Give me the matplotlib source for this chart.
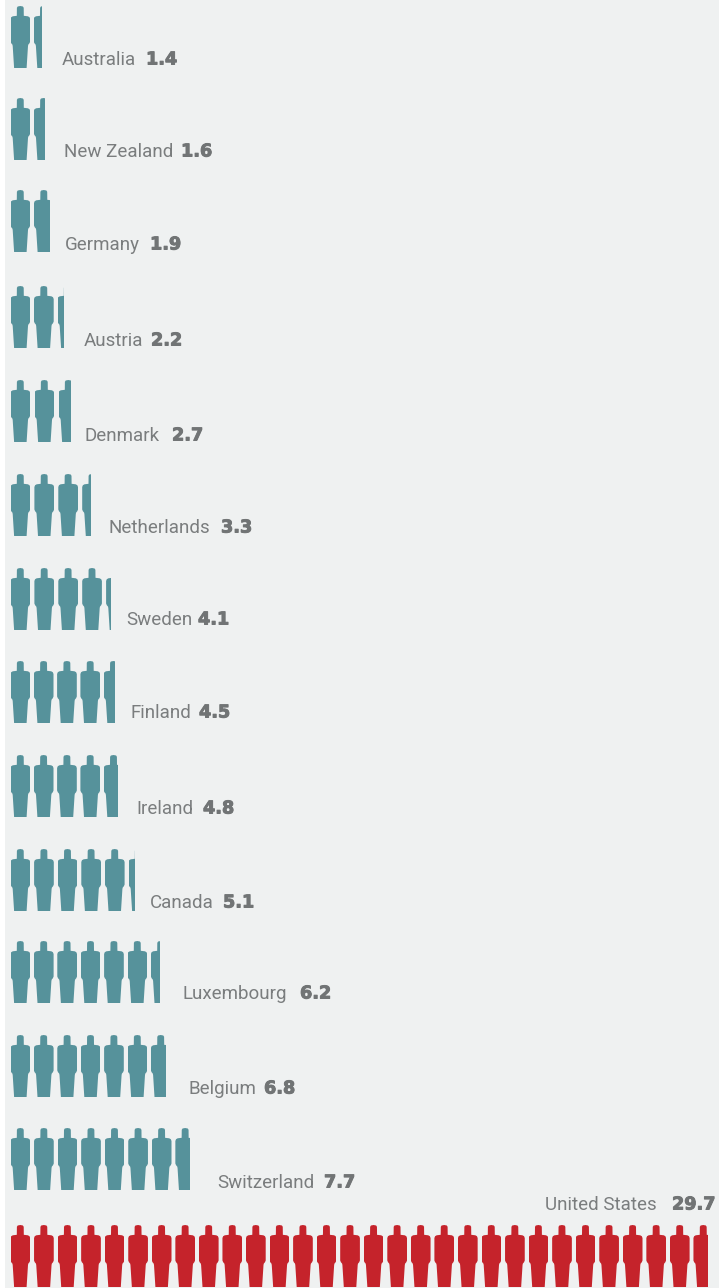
import matplotlib
matplotlib.use("Agg")
import matplotlib.pyplot as plt
import matplotlib.patheffects as pe
from matplotlib.patches import Polygon, Rectangle

# Data
countries = ["Australia", "New Zealand", "Germany", "Austria", "Denmark", "Netherlands", "Sweden",
             "Finland", "Ireland", "Canada", "Luxembourg", "Belgium", "Switzerland", "United States"]
values = [1.4, 1.6, 1.9, 2.2, 2.7, 3.3, 4.1, 4.5, 4.8, 5.1, 6.2, 6.8, 7.7, 29.7]

# Layout (pixels)
row_top = [6, 98, 190, 286, 380, 474, 568, 661, 755, 849, 941, 1035, 1128, 1225]
pitch = [23.2, 23.3, 23.5, 23.5, 24.0, 23.9, 23.9, 23.3, 23.3, 23.6, 23.4, 23.4, 23.55, 23.55]
last_width = [8.5, 11, 15.5, 6.5, 12, 9, 5, 11, 14, 6, 9, 15.5, 15, 15]
name_x = [62, 64, 65, 84, 85, 109, 126, 131, 136, 150, 183, 188, 217, 545]
value_x = [146, 181, 150, 151, 172, 221, 198, 199, 203, 223, 300, 264, 324, 672]
text_y = [59.5, 151.5, 244.5, 340.5, 435.5, 527.5, 619.5, 712.5, 808.5, 902.5, 993.5, 1088.5, 1182.5, 1204.5]
PERSON_W, PERSON_X0 = 19.7, 10.5
TEAL, RED, BG, GREY, DARK = "#56929b", "#c5232b", "#eff1f1", "#7a7d7e", "#717475"

# Person silhouette in a 19.7 x 62 box
SHAPE = [(6.4, 1.8), (7.2, 0.5), (9.8, 0), (12.4, 0.5), (13.2, 1.8), (13.3, 9.8),
         (17.4, 10.3), (19.0, 11.2), (19.7, 13), (19.7, 35.5), (19.0, 37.2), (17.8, 38.6),
         (17.5, 40), (16.1, 62), (3.6, 62), (2.2, 40), (1.9, 38.6), (0.7, 37.2),
         (0, 35.5), (0, 13), (0.7, 11.2), (2.3, 10.3), (6.3, 9.8)]

fig = plt.figure(figsize=(7.19, 12.88), dpi=100, facecolor="white")
ax = fig.add_axes([0, 0, 1, 1])
ax.set_xlim(0, 719)
ax.set_ylim(1288, 0)
ax.axis("off")
ax.add_patch(Rectangle((5, 0), 714, 1288, fc=BG, ec="none", zorder=0))

for i, (name, v) in enumerate(zip(countries, values)):
    color = RED if name == "United States" else TEAL
    n_full = int(v)
    for k in range(n_full + 1):
        x0 = PERSON_X0 + k * pitch[i]
        w = PERSON_W if k < n_full else last_width[i]
        poly = Polygon([(x0 + a, row_top[i] + b) for a, b in SHAPE], closed=True, fc=color, ec="none", zorder=2)
        ax.add_patch(poly)
        poly.set_clip_path(Rectangle((x0, row_top[i] - 1), w, 64, transform=ax.transData))
    ax.text(name_x[i], text_y[i], name, fontsize=13.5, family="Roboto", color=GREY, va="center", ha="left", zorder=3)
    t = ax.text(value_x[i], text_y[i], f"{v:.1f}", fontsize=12.7, family="DejaVu Sans", fontweight="bold", color=DARK,
                va="center", ha="left", zorder=3)
    t.set_path_effects([pe.withStroke(linewidth=0.7, foreground=DARK)])

fig.savefig("out.png", dpi=100, facecolor="white")
